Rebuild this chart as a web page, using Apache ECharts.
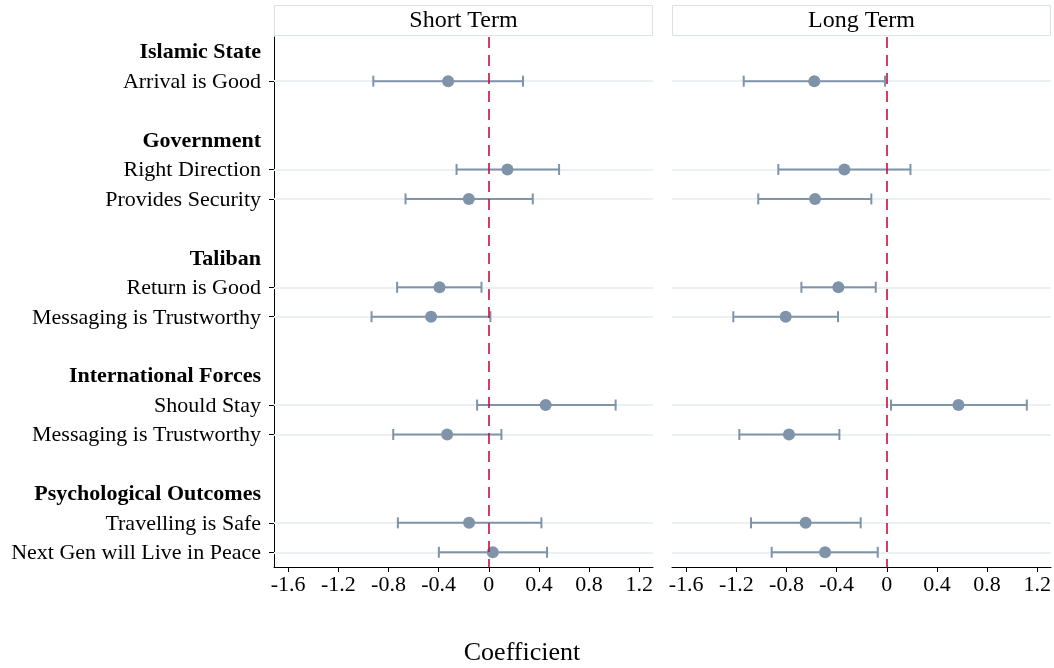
<!DOCTYPE html>
<html>
<head>
<meta charset="utf-8">
<script src="https://cdn.jsdelivr.net/npm/echarts@6/dist/echarts.min.js"></script>
<style>html,body{margin:0;padding:0;background:#fff}#c{width:1054px;height:668px}</style>
</head>
<body>
<div id="c"></div>
<script>
// Rows from top to bottom ('' = spacer row)
const rowLabels = ['Islamic State','Arrival is Good','',
  'Government','Right Direction','Provides Security','',
  'Taliban','Return is Good','Messaging is Trustworthy','',
  'International Forces','Should Stay','Messaging is Trustworthy','',
  'Psychological Outcomes','Travelling is Safe','Next Gen will Live in Peace'];
const headerLabels = ['Islamic State','Government','Taliban','International Forces','Psychological Outcomes'];

// Estimates for item rows, in top-to-bottom order
const shortEst  = [-0.324, 0.149, -0.159, -0.393, -0.460, 0.454, -0.332, -0.157, 0.032];
const shortLow  = [-0.921, -0.257, -0.664, -0.731, -0.935, -0.093, -0.762, -0.725, -0.398];
const shortHigh = [0.273, 0.561, 0.351, -0.058, 0.013, 1.012, 0.101, 0.420, 0.465];
const longEst   = [-0.578, -0.338, -0.572, -0.386, -0.806, 0.572, -0.780, -0.647, -0.492];
const longLow   = [-1.141, -0.865, -1.025, -0.681, -1.224, 0.034, -1.176, -1.083, -0.918];
const longHigh  = [-0.014, 0.189, -0.123, -0.088, -0.389, 1.117, -0.378, -0.208, -0.072];

const tickValues = [-1.6, -1.2, -0.8, -0.4, 0, 0.4, 0.8, 1.2];
const panelTitles = ['Short Term', 'Long Term'];
const xName = 'Coefficient';

const isHeader = rowLabels.map(l => headerLabels.indexOf(l) >= 0);
const isItem = rowLabels.map((l, i) => l !== '' && !isHeader[i]);
const itemRows = [];
isItem.forEach((v, i) => { if (v) itemRows.push(i); });
const catKeys = rowLabels.map((_, i) => 'r' + i);

const COL = '#7f93a9';
const FONT = '"Liberation Serif", "Times New Roman", serif';

function renderBar(params, api) {
  const y = api.value(0);
  const a = api.coord([api.value(1), y]);
  const b = api.coord([api.value(2), y]);
  const h = 5.5;
  const st = { stroke: COL, lineWidth: 2 };
  return { type: 'group', children: [
    { type: 'line', shape: { x1: a[0], y1: a[1], x2: b[0], y2: b[1] }, style: st },
    { type: 'line', shape: { x1: a[0], y1: a[1] - h, x2: a[0], y2: a[1] + h }, style: st },
    { type: 'line', shape: { x1: b[0], y1: b[1] - h, x2: b[0], y2: b[1] + h }, style: st }
  ]};
}

const grids = [
  { left: 274, right: 401, top: 37, bottom: 101 },
  { left: 672, right: 3, top: 37, bottom: 101 }
];

function xAxisFor(gi) {
  return {
    type: 'value', gridIndex: gi, min: -1.713, max: 1.31,
    axisLine: { show: true, onZero: false, lineStyle: { color: '#000', width: 1 } },
    axisTick: { show: true, length: 5, customValues: tickValues, lineStyle: { color: '#000' } },
    axisLabel: { customValues: tickValues, color: '#000', fontFamily: FONT, fontSize: 22, margin: 7,
      formatter: v => String(Math.round(v * 10) / 10) },
    splitLine: { show: false }
  };
}

function yAxisFor(gi, showLabels) {
  return {
    type: 'category', gridIndex: gi, inverse: true, data: catKeys, boundaryGap: true,
    axisLine: { show: showLabels, onZero: false, lineStyle: { color: '#000', width: 1 } },
    axisTick: { show: showLabels, alignWithLabel: true, length: 5, interval: (i) => isItem[i], lineStyle: { color: '#000' } },
    axisLabel: showLabels ? {
      interval: 0, margin: 13, fontFamily: FONT, fontSize: 22, color: '#000', padding: [2, 0, 0, 0],
      formatter: (v, i) => {
        const idx = catKeys.indexOf(v);
        const t = rowLabels[idx];
        return isHeader[idx] ? '{b|' + t + '}' : t;
      },
      rich: { b: { fontWeight: 'bold', fontFamily: FONT, fontSize: 22, color: '#000' } }
    } : { show: false },
    splitLine: { show: false }
  };
}

const series = [];
[0, 1].forEach(gi => {
  const est = gi === 0 ? shortEst : longEst;
  const lo = gi === 0 ? shortLow : longLow;
  const hi = gi === 0 ? shortHigh : longHigh;
  // gridlines
  series.push({
    type: 'scatter', xAxisIndex: gi, yAxisIndex: gi, data: [], silent: true, z: 1,
    markLine: {
      silent: true, symbol: 'none', animation: false, z: 1,
      label: { show: false },
      data: itemRows.map(r => ({ yAxis: r, lineStyle: { color: '#ebf0f3', width: 2, type: 'solid' } }))
    }
  });
  series.push({
    type: 'custom', xAxisIndex: gi, yAxisIndex: gi, z: 3,
    renderItem: renderBar,
    encode: { x: [1, 2], y: 0 },
    data: itemRows.map((r, k) => [r, lo[k], hi[k]])
  });
  series.push({
    type: 'scatter', xAxisIndex: gi, yAxisIndex: gi, z: 4,
    symbol: 'circle', symbolSize: 12,
    itemStyle: { color: COL, opacity: 1 },
    data: itemRows.map((r, k) => [est[k], r]),
    markLine: {
      silent: true, symbol: 'none', animation: false, z: 5,
      label: { show: false },
      lineStyle: { color: '#c8103c', width: 1.6, type: [11, 7], opacity: 1 },
      data: [{ xAxis: 0 }]
    }
  });
});

const chart = echarts.init(document.getElementById('c'), null, { renderer: 'canvas' });
chart.setOption({
  animation: false,
  backgroundColor: '#fff',
  grid: grids,
  xAxis: [xAxisFor(0), xAxisFor(1)],
  yAxis: [yAxisFor(0, true), yAxisFor(1, false)],
  series: series,
  graphic: [
    { type: 'rect', shape: { x: 274.5, y: 5.5, width: 378, height: 30 }, style: { fill: '#fff', stroke: '#d7e2e9', lineWidth: 1 } },
    { type: 'text', x: 463.5, y: 20.5, style: { text: panelTitles[0], fontFamily: FONT, fontSize: 24, fill: '#000', align: 'center', verticalAlign: 'middle' } },
    { type: 'rect', shape: { x: 672.5, y: 5.5, width: 378, height: 30 }, style: { fill: '#fff', stroke: '#d7e2e9', lineWidth: 1 } },
    { type: 'text', x: 861.5, y: 20.5, style: { text: panelTitles[1], fontFamily: FONT, fontSize: 24, fill: '#000', align: 'center', verticalAlign: 'middle' } },
    { type: 'text', x: 522, y: 653, style: { text: xName, fontFamily: FONT, fontSize: 26, fill: '#000', align: 'center', verticalAlign: 'middle' } }
  ]
});
</script>
</body>
</html>
